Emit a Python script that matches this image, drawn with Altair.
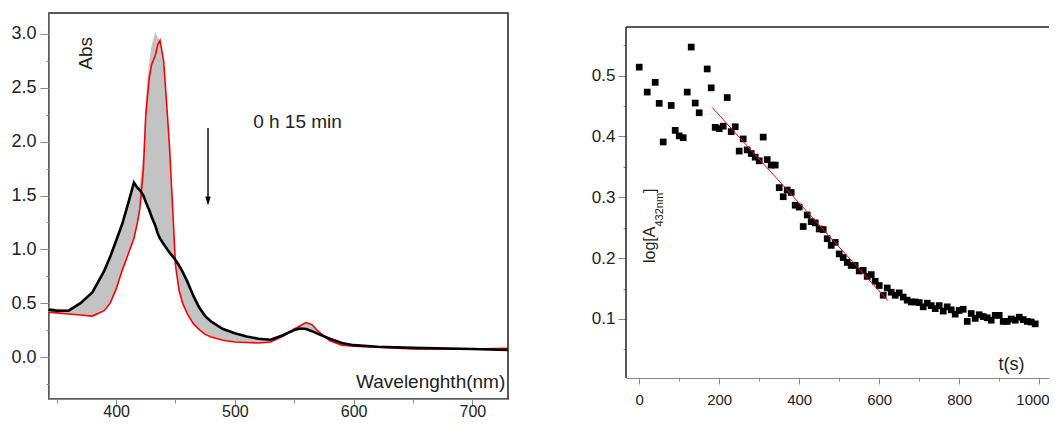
import altair as alt
import pandas as pd

# ---------------- Left panel: UV-vis spectra ----------------
wl = [343, 350, 360, 370, 380, 390, 395, 400, 405, 410, 415, 418, 420, 423, 425,
      428, 430, 433, 435, 437, 440, 443, 445, 448, 450, 453, 456, 460, 465, 470,
      475, 480, 490, 500, 510, 520, 530, 540, 550, 555, 560, 565, 570, 580, 590,
      600, 620, 650, 700, 730]
red_abs = [0.415, 0.41, 0.40, 0.39, 0.38, 0.43, 0.50, 0.63, 0.80, 0.95, 1.10, 1.25, 1.38, 1.75, 2.25,
           2.60, 2.72, 2.80, 2.90, 2.94, 2.75, 2.28, 1.95, 1.30, 0.85, 0.62, 0.50, 0.40, 0.31, 0.255,
           0.21, 0.185, 0.155, 0.14, 0.135, 0.13, 0.14, 0.19, 0.26, 0.29, 0.32, 0.30, 0.24, 0.15, 0.11,
           0.10, 0.09, 0.075, 0.075, 0.08]
black_abs = [0.44, 0.43, 0.43, 0.50, 0.60, 0.80, 0.93, 1.08, 1.23, 1.42, 1.62, 1.57, 1.55, 1.50, 1.44,
             1.36, 1.30, 1.22, 1.15, 1.10, 1.05, 1.00, 0.97, 0.93, 0.90, 0.85, 0.79, 0.70, 0.57, 0.46,
             0.38, 0.33, 0.26, 0.22, 0.19, 0.17, 0.16, 0.20, 0.25, 0.265, 0.26, 0.24, 0.215, 0.17, 0.13,
             0.11, 0.095, 0.085, 0.075, 0.065]
gray_hi = [0.46, 0.45, 0.44, 0.50, 0.60, 0.80, 0.93, 1.08, 1.23, 1.42, 1.62, 1.57, 1.60, 1.90, 2.40,
           2.75, 2.90, 3.02, 2.97, 2.94, 2.75, 2.28, 1.95, 1.30, 0.90, 0.85, 0.79, 0.70, 0.57, 0.46,
           0.38, 0.33, 0.26, 0.22, 0.19, 0.17, 0.16, 0.20, 0.26, 0.29, 0.32, 0.30, 0.24, 0.17, 0.13,
           0.11, 0.095, 0.085, 0.075, 0.08]
gray_lo = [0.415, 0.41, 0.40, 0.39, 0.38, 0.43, 0.50, 0.63, 0.80, 0.95, 1.10, 1.25, 1.38, 1.50, 1.44,
           1.36, 1.30, 1.22, 1.15, 1.10, 1.05, 1.00, 0.97, 0.93, 0.85, 0.62, 0.50, 0.40, 0.31, 0.255,
           0.21, 0.185, 0.155, 0.14, 0.135, 0.13, 0.14, 0.19, 0.25, 0.265, 0.26, 0.24, 0.215, 0.15, 0.11,
           0.10, 0.09, 0.075, 0.075, 0.065]

x_major_left = [400, 500, 600, 700]
x_minor_left = [350, 450, 550, 650]
y_major_left = [0.0, 0.5, 1.0, 1.5, 2.0, 2.5, 3.0]
y_minor_left = [-0.25, 0.25, 0.75, 1.25, 1.75, 2.25, 2.75]

# ---------------- Right panel: kinetics ----------------
t_s = [0, 20, 40, 50, 60, 80, 90, 100, 110, 120, 130, 140, 150, 170, 180, 190, 200, 210, 220, 230,
       240, 250, 260, 270, 280, 290, 300, 310, 320, 330, 340, 350, 360, 370, 380, 390, 400, 410, 420,
       430, 440, 450, 460, 470, 480, 490, 500, 510, 520, 530, 540, 550, 560, 570, 580, 590, 600, 610,
       620, 630, 640, 650, 660, 670, 680, 690, 700, 710, 720, 730, 740, 750, 760, 770, 780, 790, 800,
       810, 820, 830, 840, 850, 860, 870, 880, 890, 900, 910, 920, 930, 940, 950, 960, 970, 980, 990]
log_a = [0.514, 0.473, 0.489, 0.4545, 0.391, 0.451, 0.410, 0.401, 0.398, 0.473, 0.547, 0.455, 0.439,
         0.511, 0.480, 0.415, 0.413, 0.417, 0.464, 0.408, 0.416, 0.376, 0.396, 0.378, 0.372, 0.366,
         0.360, 0.399, 0.362, 0.353, 0.353, 0.316, 0.301, 0.312, 0.308, 0.287, 0.284, 0.252, 0.271,
         0.260, 0.258, 0.248, 0.247, 0.232, 0.221, 0.226, 0.207, 0.201, 0.193, 0.188, 0.188, 0.179,
         0.180, 0.170, 0.173, 0.162, 0.155, 0.139, 0.151, 0.144, 0.139, 0.143, 0.136, 0.131, 0.128,
         0.128, 0.127, 0.120, 0.126, 0.122, 0.117, 0.122, 0.113, 0.120, 0.115, 0.108, 0.114, 0.116,
         0.096, 0.109, 0.101, 0.107, 0.104, 0.102, 0.098, 0.106, 0.106, 0.096, 0.096, 0.100, 0.098,
         0.103, 0.099, 0.096, 0.095, 0.092]
fit_t = [182, 622]
fit_v = [0.448, 0.130]

x_major_right = [0, 200, 400, 600, 800, 1000]
x_minor_right = [100, 300, 500, 700, 900]
y_major_right = [0.1, 0.2, 0.3, 0.4, 0.5]
y_minor_right = [0.05, 0.15, 0.25, 0.35, 0.45, 0.55]

# frame of the right panel (data limits of its box)
t_lo, t_hi = -33, 1024.5
v_lo, v_box_top = 0.003, 0.58

FONT = "Liberation Sans"
INK = "#222222"

def main_axis(orient, values, size, fmt, tick=8, pad=3, domain=True, flush=False):
    kw = dict(orient=orient, values=values, tickSize=tick, labelFontSize=size, labelPadding=pad,
              format=fmt, grid=False, domain=domain, ticks=True, labelFont=FONT,
              labelColor=INK, title=None)
    if flush:
        kw.update(labelFlush=11, labelFlushOffset=10)
    return alt.Axis(**kw)

def minor_axis(orient, values, size=4):
    return alt.Axis(orient=orient, values=values, tickSize=size, labels=False, domain=False,
                    grid=False, title=None)

# ======== Left chart ========
spec = pd.DataFrame({"wl": wl, "red": red_abs, "black": black_abs, "hi": gray_hi, "lo": gray_lo})
xsL = alt.Scale(domain=[343.5, 730], nice=False, zero=False)
ysL = alt.Scale(domain=[-0.39, 3.195], nice=False, zero=False)

area = alt.Chart(spec).mark_area(color="#c3c3c3", opacity=1).encode(
    x=alt.X("wl:Q", scale=xsL, axis=main_axis("bottom", x_major_left, 16, "d", tick=7, pad=-3)),
    y=alt.Y("hi:Q", scale=ysL, axis=main_axis("left", y_major_left, 18, ".1f", tick=9, pad=4)),
    y2="lo:Q",
)
minorL = alt.Chart(spec).mark_line(opacity=0).encode(
    x=alt.X("wl:Q", scale=xsL, axis=minor_axis("bottom", x_minor_left, 4)),
    y=alt.Y("red:Q", scale=ysL, axis=minor_axis("left", y_minor_left, 3)),
)
red_line = alt.Chart(spec).mark_line(color="#ff0000", strokeWidth=1.6).encode(
    x=alt.X("wl:Q", scale=xsL, axis=None), y=alt.Y("red:Q", scale=ysL, axis=None))
black_line = alt.Chart(spec).mark_line(color="#000000", strokeWidth=2.6).encode(
    x=alt.X("wl:Q", scale=xsL, axis=None), y=alt.Y("black:Q", scale=ysL, axis=None))

ann_left = pd.DataFrame({
    "x": [374.7, 515.4, 727.7],
    "y": [2.82, 2.18, -0.288],
    "t": ["Abs", "0 h 15 min", "Wavelenghth(nm)"],
})
abs_txt = alt.Chart(ann_left.iloc[[0]]).mark_text(angle=270, align="center", baseline="middle",
                                                  font=FONT, fontSize=19, color=INK).encode(
    x=alt.X("x:Q", scale=xsL, axis=None), y=alt.Y("y:Q", scale=ysL, axis=None), text="t:N")
time_txt = alt.Chart(ann_left.iloc[[1]]).mark_text(align="left", baseline="middle",
                                                   font=FONT, fontSize=19, color=INK).encode(
    x=alt.X("x:Q", scale=xsL, axis=None), y=alt.Y("y:Q", scale=ysL, axis=None), text="t:N")
wl_txt = alt.Chart(ann_left.iloc[[2]]).mark_text(align="right", baseline="alphabetic",
                                                 font=FONT, fontSize=19, color=INK).encode(
    x=alt.X("x:Q", scale=xsL, axis=None), y=alt.Y("y:Q", scale=ysL, axis=None), text="t:N")

arrow_df = pd.DataFrame({"x": [477.4], "y1": [2.126], "y2": [1.47], "yh": [1.45]})
arrow_shaft = alt.Chart(arrow_df).mark_rule(color="#000000", strokeWidth=1.4).encode(
    x=alt.X("x:Q", scale=xsL, axis=None), y=alt.Y("y1:Q", scale=ysL, axis=None), y2="y2:Q")
arrow_head = alt.Chart(arrow_df).mark_point(shape="M-0.9,-1.5L0.9,-1.5L0,1.5Z", size=36,
                                            filled=True, color="#000000", opacity=1).encode(
    x=alt.X("x:Q", scale=xsL, axis=None), y=alt.Y("yh:Q", scale=ysL, axis=None))

left = alt.layer(area, minorL, red_line, black_line, abs_txt, time_txt, wl_txt,
                 arrow_shaft, arrow_head).resolve_axis(x="independent", y="independent").properties(
    width=459, height=386, view=alt.ViewBackground(stroke=INK, strokeWidth=1.5))

# ======== Right chart ========
kin = pd.DataFrame({"t": t_s, "v": log_a})
fit = pd.DataFrame({"t": fit_t, "v": fit_v})
xsR = alt.Scale(domain=[t_lo, t_hi], nice=False, zero=False)
ysR = alt.Scale(domain=[v_lo, 0.603], nice=False, zero=False)

pts = alt.Chart(kin).mark_square(size=45, color="#000000", opacity=1).encode(
    x=alt.X("t:Q", scale=xsR, axis=main_axis("bottom", x_major_right, 15, "d", tick=6, pad=8,
                                             flush=True)),
    y=alt.Y("v:Q", scale=ysR, axis=main_axis("left", y_major_right, 17, ".1f", tick=8, pad=3,
                                             domain=False)),
)
minorR = alt.Chart(kin).mark_point(opacity=0).encode(
    x=alt.X("t:Q", scale=xsR, axis=minor_axis("bottom", x_minor_right, 3)),
    y=alt.Y("v:Q", scale=ysR, axis=minor_axis("left", y_minor_right, 3)),
)
frame_top = pd.DataFrame({"x1": [t_lo], "x2": [t_hi], "y": [v_box_top]})
frame_left = pd.DataFrame({"x": [t_lo], "y1": [v_lo], "y2": [v_box_top]})
top_rule = alt.Chart(frame_top).mark_rule(color=INK, strokeWidth=1.5).encode(
    x=alt.X("x1:Q", scale=xsR, axis=None), x2="x2:Q", y=alt.Y("y:Q", scale=ysR, axis=None))
left_rule = alt.Chart(frame_left).mark_rule(color=INK, strokeWidth=1.5).encode(
    x=alt.X("x:Q", scale=xsR, axis=None), y=alt.Y("y1:Q", scale=ysR, axis=None), y2="y2:Q")
fit_line = alt.Chart(fit).mark_line(color="#ff0000", strokeWidth=1).encode(
    x=alt.X("t:Q", scale=xsR, axis=None), y=alt.Y("v:Q", scale=ysR, axis=None))

ann_right = pd.DataFrame({
    "x": [930.75, 39.5, 59.5, 39.5],
    "y": [0.016, 0.192, 0.252, 0.307],
    "t": ["t(s)", "log[A", "432nm", "]"],
})
ts_txt = alt.Chart(ann_right.iloc[[0]]).mark_text(align="center", baseline="alphabetic",
                                                  font=FONT, fontSize=18, color=INK).encode(
    x=alt.X("x:Q", scale=xsR, axis=None), y=alt.Y("y:Q", scale=ysR, axis=None), text="t:N")
log_main = alt.Chart(ann_right.iloc[[1, 3]]).mark_text(angle=270, align="left", baseline="alphabetic",
                                                       font=FONT, fontSize=16, color=INK).encode(
    x=alt.X("x:Q", scale=xsR, axis=None), y=alt.Y("y:Q", scale=ysR, axis=None), text="t:N")
log_sub = alt.Chart(ann_right.iloc[[2]]).mark_text(angle=270, align="left", baseline="alphabetic",
                                                   font=FONT, fontSize=11, color=INK).encode(
    x=alt.X("x:Q", scale=xsR, axis=None), y=alt.Y("y:Q", scale=ysR, axis=None), text="t:N")

right = alt.layer(pts, minorR, top_rule, left_rule, fit_line, ts_txt, log_main, log_sub).resolve_axis(
    x="independent", y="independent").properties(
    width=423, height=365, view=alt.ViewBackground(stroke="transparent"))

chart = alt.hconcat(left, right, spacing=76).properties(
    autosize=alt.AutoSizeParams(type="none"),
    padding={"left": 41, "top": 5, "right": 1000, "bottom": 405}
).configure_axis(
    domainColor=INK, domainWidth=1.5, tickColor=INK, tickWidth=1.3
).configure(background="white")

chart.save("out.html", embed_options={"renderer": "svg", "actions": False})
